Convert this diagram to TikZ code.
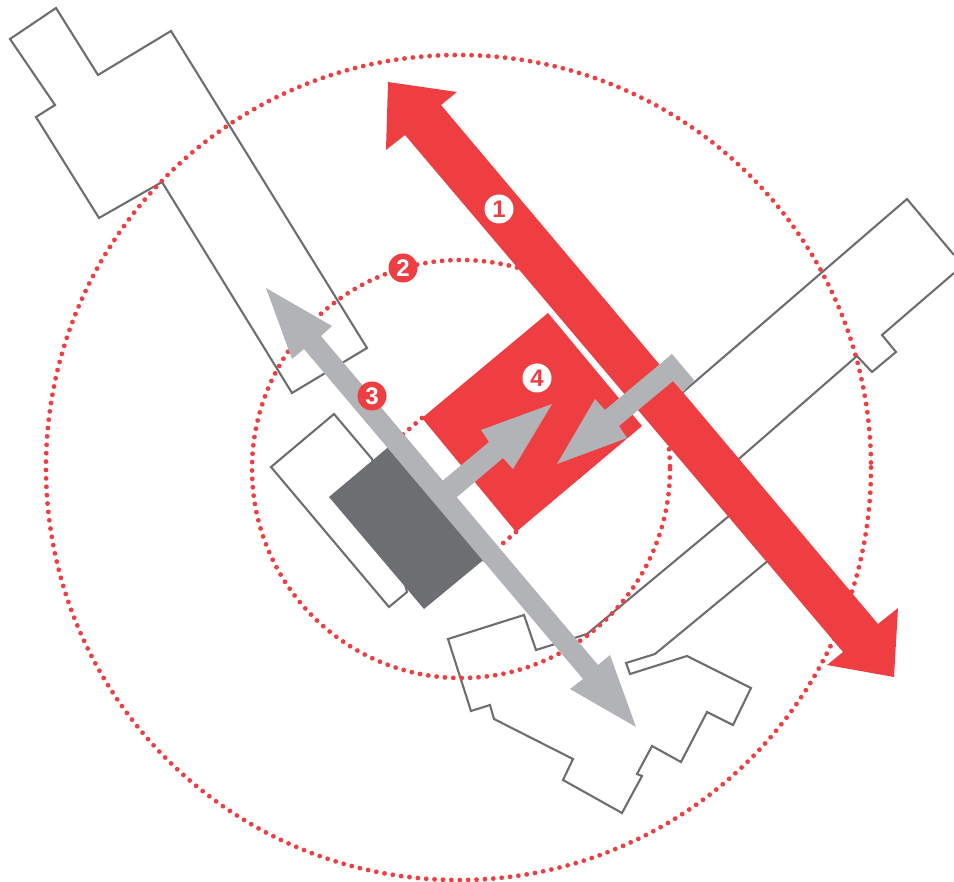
\documentclass[tikz,border=0pt]{standalone}
\usepackage{xcolor}
\usepackage{fontspec}
\setmainfont{Liberation Sans}
\usetikzlibrary{positioning}
\definecolor{zonered}{RGB}{239,62,66}
\definecolor{routegrey}{RGB}{177,179,182}
\definecolor{blockgrey}{RGB}{109,110,113}

\begin{document}
\begin{tikzpicture}[
  x=1pt,y=-1pt,
  outline/.style={draw=blockgrey,line width=2.1pt,line join=miter},
  ring/.style={draw=zonered,line width=4.8pt,line cap=round,dash pattern=on 0pt off 8.4pt},
  redfill/.style={fill=zonered},
  greyfill/.style={fill=routegrey},
  badge/.style={circle,inner sep=0pt,minimum size=29pt,font=\bfseries\fontsize{24}{24}\selectfont},
  redbadge/.style={badge,fill=zonered,text=white},
  whitebadge/.style={badge,fill=white,text=zonered},
]
\useasboundingbox (0,0) rectangle (954,882);

\draw[outline] (56,8) -- (98,75) -- (171,31) -- (367,348) -- (292,393) -- (162,182) -- (99,218) -- (36,117) -- (55,105) -- (10,39) -- cycle;
\draw[outline] (675,399) -- (907,199) -- (954,255);
\draw[outline] (954,273) -- (882,335) -- (896,352) -- (872,372) -- (857,356) -- (725,471);
\draw[outline] (735,511) -- (587,634) -- (536,650) -- (524,615) -- (448,639) -- (471,711) -- (490,705) -- (494,719) -- (573,759) -- (563,780) -- (622,813) -- (642,776) -- (637,774) -- (652,746) -- (681,762) -- (707,712) -- (733,725) -- (751,688) -- (687,656) -- (630,674) -- (626,663) -- (655,654) -- (775,555);
\draw[outline] (334,414) -- (271,467) -- (389,607) -- (407,592) -- (372,459) -- cycle;

\draw[ring] (458.5,467.5) circle (412.5);
\draw[ring] (461,469) circle (209);
\draw[ring] (422,418) -- (385,450);
\draw[ring] (516,532) -- (480,563);

\fill[blockgrey] (392,444) -- (329,497) -- (424,609) -- (487,557) -- cycle;

\fill[redfill] (548,313) -- (642,426) -- (516,532) -- (422,418) -- cycle;
\fill[greyfill] (435,487) -- (489,442) -- (481,430) -- (552,404) -- (513,469) -- (503,458) -- (450,503) -- cycle;
\fill[redfill] (388,82) -- (457,92) -- (441,105) -- (878,624) -- (898,608) -- (894,677) -- (827,665) -- (843,652) -- (405,135) -- (386,150) -- cycle;
\fill[greyfill] (266,288) -- (332,326) -- (321,336) -- (598,665) -- (610,655) -- (636,727) -- (570,689) -- (583,679) -- (304,349) -- (292,359) -- cycle;
\fill[greyfill] (557,464) -- (595,399) -- (605,410) -- (672,354) -- (694,380) -- (683,392) -- (673,381) -- (619,426) -- (627,438) -- cycle;

\node[whitebadge] (one) at (499,209) {1};
\node[redbadge] (two) at (403,268) {2};
\node[redbadge] (three) at (372,396) {3};
\node[whitebadge] (four) at (537,378) {4};
\end{tikzpicture}
\end{document}
